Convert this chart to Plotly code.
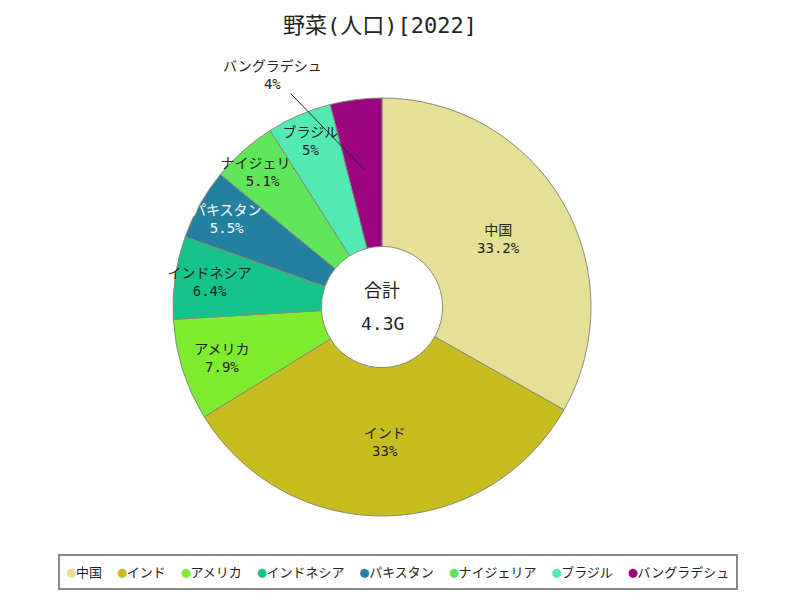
import math
import plotly.graph_objects as go

countries = ["中国", "インド", "アメリカ", "インドネシア", "パキスタン", "ナイジェリア", "ブラジル", "バングラデシュ"]
population_m = [1425, 1417, 338, 275, 235, 218, 215, 171]
colors = ["#e6e096", "#c8bd1f", "#7eec2f", "#14c48a", "#24809f", "#5fe65b", "#52ebb4", "#9b057e"]
text_colors = ["#222222", "#222222", "#222222", "#222222", "#ffffff", "#222222", "#222222", "#222222"]
title_text = "野菜(人口)[2022]"
center_label = "合計"

FONT = "DejaVu Sans Mono, Noto Sans CJK JP"
total = sum(population_m)

def fmt_pct(v):
    s = f"{v / total * 100:.1f}"
    if s.endswith(".0"):
        s = s[:-2]
    return s + "%"

pcts = [fmt_pct(v) for v in population_m]
positions = ["inside"] * (len(countries) - 1) + ["none"]

W, H = 800, 600
MB = 70
PH = H - MB  # paper height in pixels
CX, CY, R = 382, 307, 209

def pyp(py):  # pixel-from-top -> paper y
    return (PH - py) / PH

dom_x = [(CX - R) / W, (CX + R) / W]
dom_y = [pyp(CY + R), pyp(CY - R)]

fig = go.Figure(go.Pie(
    labels=countries,
    values=population_m,
    customdata=pcts,
    texttemplate="%{label}<br>%{customdata}",
    textposition=positions,
    insidetextorientation="horizontal",
    textfont=dict(family=FONT, size=14, color=text_colors),
    marker=dict(colors=colors, line=dict(color="#8a8a7a", width=1)),
    hole=0.29,
    sort=False,
    direction="clockwise",
    rotation=0,
    domain=dict(x=dom_x, y=dom_y),
    showlegend=False,
    hoverinfo="label+value+percent",
))

# leader label for the last (small) slice, positioned from its data angle
cum = sum(population_m[:-1])
mid_frac = (cum + population_m[-1] / 2) / total
ang = 2 * math.pi * mid_frac
rr = 0.66 * R
px = (CX + rr * math.sin(ang)) / W
py = pyp(CY - rr * math.cos(ang))

fig.add_annotation(
    x=px, y=py, xref="paper", yref="paper",
    text=f"{countries[-1]}<br>{pcts[-1]}",
    showarrow=True, arrowhead=0, arrowwidth=1, arrowcolor="#222222",
    ax=-92, ay=-95,
    font=dict(family=FONT, size=14, color="#222222"),
)

fig.add_annotation(x=CX / W, y=pyp(CY - 17), xref="paper", yref="paper",
                   text=center_label, showarrow=False,
                   font=dict(family=FONT, size=18, color="#222222"))
fig.add_annotation(x=CX / W, y=pyp(CY + 16), xref="paper", yref="paper",
                   text=f"{total / 1000:.1f}G", showarrow=False,
                   font=dict(family=FONT, size=18, color="#222222"))

# legend row with round colour markers
sep = "\u00a0\u00a0"
legend_text = sep.join(
    f"<span style='color:{c};font-size:15px'>●</span>{n}" for n, c in zip(countries, colors)
)
fig.add_annotation(x=397.5 / W, y=pyp(572), xref="paper", yref="paper",
                   xanchor="center", yanchor="middle",
                   text=legend_text, showarrow=False,
                   bordercolor="#888888", borderwidth=2, borderpad=7, bgcolor="white",
                   font=dict(family=FONT, size=13, color="#222222"))

fig.update_layout(
    width=W, height=H,
    margin=dict(l=0, r=0, t=0, b=MB),
    paper_bgcolor="white",
    plot_bgcolor="white",
    font=dict(family=FONT, color="#222222"),
    title=dict(text=title_text, x=380 / W, xref="container", y=1 - 25 / H, yref="container",
               xanchor="center", yanchor="middle",
               font=dict(family=FONT, size=22, color="#222222")),
    uniformtext=dict(minsize=14, mode="show"),
    showlegend=False,
)

fig.write_html("out.html")
